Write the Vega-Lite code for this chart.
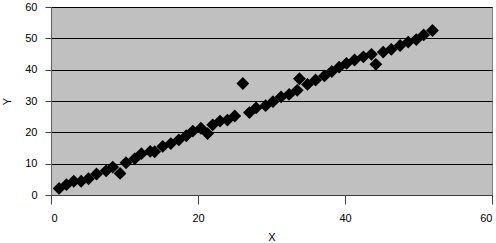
{
  "$schema": "https://vega.github.io/schema/vega-lite/v6.json",
  "width": 441,
  "height": 188,
  "autosize": {"type": "none"},
  "padding": {"left": 51, "top": 7, "right": 4, "bottom": 48},
  "background": "white",
  "config": {
    "view": {"fill": "#C0C0C0", "stroke": "#808080", "strokeWidth": 1},
    "font": "Liberation Sans"
  },
  "data": {
    "values": [
      {"X": 1.1, "Y": 2.1}, {"X": 2.1, "Y": 3.3}, {"X": 3.1, "Y": 4.4}, {"X": 4.1, "Y": 4.4},
      {"X": 5.1, "Y": 5.2}, {"X": 6.2, "Y": 6.7}, {"X": 7.5, "Y": 7.7}, {"X": 8.4, "Y": 8.9},
      {"X": 9.4, "Y": 6.9}, {"X": 10.2, "Y": 10.3}, {"X": 11.4, "Y": 11.6}, {"X": 12.3, "Y": 13.2},
      {"X": 13.5, "Y": 13.9}, {"X": 14.1, "Y": 13.8}, {"X": 15.2, "Y": 15.5}, {"X": 16.3, "Y": 16.4},
      {"X": 17.4, "Y": 17.6}, {"X": 18.4, "Y": 18.9}, {"X": 19.3, "Y": 20.4}, {"X": 20.4, "Y": 21.3},
      {"X": 21.3, "Y": 19.6}, {"X": 22.0, "Y": 22.4}, {"X": 23.0, "Y": 23.6}, {"X": 24.0, "Y": 23.9},
      {"X": 25.0, "Y": 25.2}, {"X": 26.1, "Y": 35.6}, {"X": 27.0, "Y": 26.3}, {"X": 27.9, "Y": 27.8},
      {"X": 29.2, "Y": 28.5}, {"X": 30.2, "Y": 29.8}, {"X": 31.3, "Y": 31.3}, {"X": 32.4, "Y": 32.1},
      {"X": 33.5, "Y": 33.4}, {"X": 33.8, "Y": 37.1}, {"X": 34.9, "Y": 35.3}, {"X": 36.0, "Y": 36.7},
      {"X": 37.2, "Y": 38.0}, {"X": 38.2, "Y": 39.4}, {"X": 39.2, "Y": 40.8}, {"X": 40.2, "Y": 42.0},
      {"X": 41.3, "Y": 43.1}, {"X": 42.5, "Y": 44.1}, {"X": 43.6, "Y": 44.9}, {"X": 44.2, "Y": 41.7},
      {"X": 45.2, "Y": 45.6}, {"X": 46.3, "Y": 46.5}, {"X": 47.5, "Y": 47.7}, {"X": 48.6, "Y": 48.8},
      {"X": 49.7, "Y": 49.6}, {"X": 50.7, "Y": 51.1}, {"X": 51.9, "Y": 52.5}
    ]
  },
  "mark": {"type": "point", "shape": "diamond", "filled": true, "color": "black", "opacity": 1, "size": 165},
  "encoding": {
    "x": {
      "field": "X", "type": "quantitative",
      "scale": {"domain": [0, 60], "nice": false, "zero": false},
      "axis": {
        "values": [0, 20, 40, 60], "grid": false, "tickSize": 9, "tickColor": "#404040",
        "domainColor": "#404040", "labelFontSize": 11, "labelColor": "black", "labelPadding": 8,
        "title": "X", "titleFontSize": 11, "titleFontWeight": "normal", "titleColor": "black", "titlePadding": 8
      }
    },
    "y": {
      "field": "Y", "type": "quantitative",
      "scale": {"domain": [0, 60], "nice": false, "zero": false},
      "axis": {
        "values": [0, 10, 20, 30, 40, 50, 60], "grid": true, "gridColor": "black", "gridOpacity": 1,
        "tickSize": 6, "tickColor": "#404040", "domainColor": "#606060",
        "labelFontSize": 11, "labelColor": "black", "labelPadding": 8,
        "title": "Y", "titleFontSize": 11, "titleFontWeight": "normal", "titleColor": "black", "titlePadding": 12
      }
    }
  }
}
